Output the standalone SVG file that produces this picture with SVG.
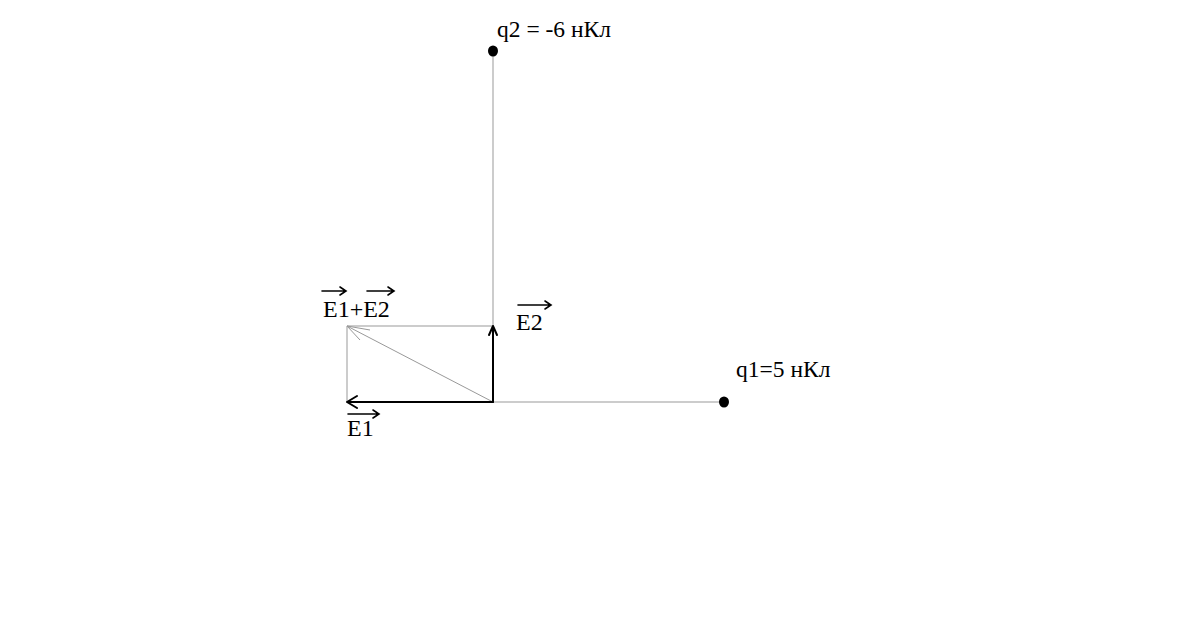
<svg xmlns="http://www.w3.org/2000/svg" width="1200" height="617" viewBox="0 0 1200 617">
<style>
.thin{stroke:#999;stroke-width:1;fill:none}
.bold{stroke:#000;stroke-width:2;fill:none;stroke-linecap:round;stroke-linejoin:round}
.oa{stroke:#000;stroke-width:1.6;fill:none;stroke-linecap:round}
.lbl{font-family:'Liberation Serif','Times New Roman',serif;fill:#000}
.dot{fill:#000}
</style>
<rect width="1200" height="617" fill="#fff"/>
<g id="connectors">
<line class="thin" x1="493" y1="50" x2="493" y2="402"/>
<line class="thin" x1="493" y1="402" x2="724" y2="402"/>
<line class="thin" x1="347" y1="326" x2="493" y2="326"/>
<line class="thin" x1="347" y1="326" x2="347" y2="402"/>
<line class="thin" x1="493" y1="402" x2="347" y2="326"/>
<path class="thin" d="M370 330 L347 326 L360 340"/>
<path id="E1-arrow" class="bold" d="M493 402 L347 402 M357 396 L347 402 L357 408"/>
<path id="E2-arrow" class="bold" d="M493 402 L493 326 M489 335 L493 326 L497 335"/>
</g>
<g id="q2">
<ellipse class="dot" cx="493" cy="51" rx="5" ry="5.5"/>
<text class="lbl" x="497" y="37" font-size="23.5">q2 = -6 нКл</text>
</g>
<g id="q1">
<ellipse class="dot" cx="724" cy="402" rx="5" ry="5.5"/>
<text class="lbl" x="736" y="377" font-size="23.5">q1=5 нКл</text>
</g>
<g id="E1-label">
<text class="lbl" x="347" y="436" font-size="24">E1</text>
<path class="oa" d="M348 414 L379 414 M373 410 L379 414 L373 418"/>
</g>
<g id="E2-label">
<text class="lbl" x="516" y="330" font-size="24">E2</text>
<path class="oa" d="M518 305 L551 305 M545 301 L551 305 L545 309"/>
</g>
<g id="sum-label">
<text class="lbl" x="323" y="317" font-size="24">E1+E2</text>
<path class="oa" d="M322 291 L346 291 M340 287 L346 291 L340 295"/>
<path class="oa" d="M367 291 L394 291 M388 287 L394 291 L388 295"/>
</g>
</svg>
